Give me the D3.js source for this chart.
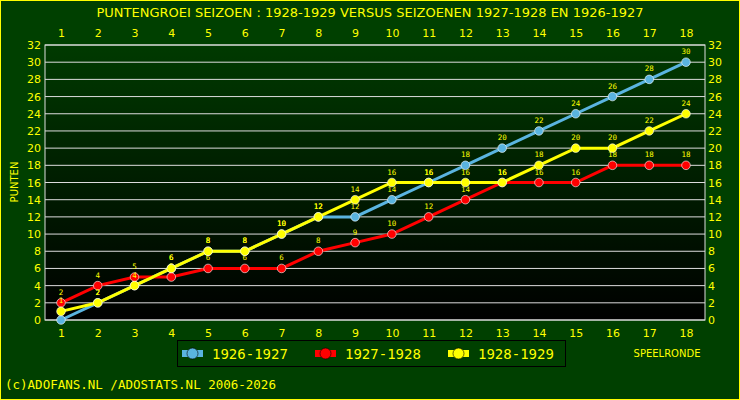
<!DOCTYPE html>
<html><head><meta charset="utf-8">
<script src="https://cdn.jsdelivr.net/npm/d3@7"></script>
<style>body{margin:0;background:#000}svg{display:block}</style>
</head><body><div id="chart"></div>
<script>
const rondes = d3.range(1, 19);
const seizoenen = ["1926-1927", "1927-1928", "1928-1929"];
const kleuren = ["#5ab4e0", "#ff0000", "#ffff00"];
const punten1926 = [0,2,4,6,8,8,10,12,12,14,16,18,20,22,24,26,28,30];
const punten1927 = [2,4,5,5,6,6,6,8,9,10,12,14,16,16,16,18,18,18];
const punten1928 = [1,2,4,6,8,8,10,12,14,16,16,16,16,18,20,20,22,24];
const yTicks = d3.range(0, 33, 2);
const reeksen = [punten1926, punten1927, punten1928];

const width = 740, height = 400;
const svg = d3.select("#chart").append("svg").attr("width", width).attr("height", height);
const yel = "#ffff00";

svg.append("rect").attr("x", 0.5).attr("y", 0.5).attr("width", width - 1).attr("height", height - 1)
  .attr("fill", "#004000").attr("stroke", yel);

const grad = svg.append("defs").append("linearGradient").attr("id", "bg")
  .attr("x1", 0).attr("y1", 0).attr("x2", 0).attr("y2", 1);
grad.append("stop").attr("offset", "0%").attr("stop-color", "#003a00");
grad.append("stop").attr("offset", "100%").attr("stop-color", "#000000");

const L = 45, R = 705, T = 45, B = 320;
const x = d3.scaleLinear().domain([1, 18]).range([61, 686]);
const y = d3.scaleLinear().domain([0, 32]).range([B, T]);

svg.append("rect").attr("x", L).attr("y", T).attr("width", R - L).attr("height", B - T)
  .attr("fill", "url(#bg)").attr("stroke", "#ddd");

svg.append("g").selectAll("line").data(yTicks).join("line")
  .attr("x1", L).attr("x2", R).attr("y1", d => y(d)).attr("y2", d => y(d))
  .attr("stroke", "#ddd").attr("stroke-width", 1);

const font = "DejaVu Sans, sans-serif";
function tekst(g) {
  g.selectAll("text").attr("fill", yel).attr("font-family", font).attr("font-size", 11);
  g.select(".domain").remove();
  g.selectAll(".tick line").remove();
}
svg.append("g").attr("transform", `translate(0,${B})`)
  .call(d3.axisBottom(x).tickValues(rondes).tickSize(0).tickPadding(9)).call(tekst);
svg.append("g").attr("transform", `translate(0,${T})`)
  .call(d3.axisTop(x).tickValues(rondes).tickSize(0).tickPadding(8)).call(tekst);
svg.append("g").attr("transform", `translate(${L},0)`)
  .call(d3.axisLeft(y).tickValues(yTicks).tickSize(0).tickPadding(4)).call(tekst);
svg.append("g").attr("transform", `translate(${R},0)`)
  .call(d3.axisRight(y).tickValues(yTicks).tickSize(0).tickPadding(3)).call(tekst);

svg.append("text").attr("x", 370).attr("y", 17).attr("text-anchor", "middle")
  .attr("fill", yel).attr("font-family", font).attr("font-size", 13)
  .text("PUNTENGROEI  SEIZOEN : 1928-1929 VERSUS SEIZOENEN 1927-1928 EN 1926-1927");
svg.append("text").attr("transform", "translate(18,182) rotate(-90)").attr("text-anchor", "middle")
  .attr("fill", yel).attr("font-family", font).attr("font-size", 10).text("PUNTEN");
svg.append("text").attr("x", 667).attr("y", 357).attr("text-anchor", "middle")
  .attr("fill", yel).attr("font-family", font).attr("font-size", 10).text("SPEELRONDE");
svg.append("text").attr("x", 5).attr("y", 389)
  .attr("fill", yel).attr("font-family", "DejaVu Sans Mono, monospace").attr("font-size", 12.5)
  .text("(c)ADOFANS.NL /ADOSTATS.NL 2006-2026");

const line = d3.line().x((d, i) => x(rondes[i])).y(d => y(d));
reeksen.forEach((s, k) => {
  const g = svg.append("g");
  g.append("path").attr("d", line(s)).attr("fill", "none")
    .attr("stroke", kleuren[k]).attr("stroke-width", 3);
  g.selectAll("circle").data(s).join("circle")
    .attr("cx", (d, i) => x(rondes[i])).attr("cy", d => y(d)).attr("r", 4.3)
    .attr("fill", kleuren[k]).attr("stroke", "#fff").attr("stroke-width", 0.6);
  g.selectAll("text").data(s).join("text")
    .attr("x", (d, i) => x(rondes[i])).attr("y", d => y(d) - 8).attr("text-anchor", "middle")
    .attr("fill", yel).attr("font-family", "DejaVu Sans Mono, monospace").attr("font-size", 7.5)
    .text(d => d);
});

const lg = svg.append("g");
lg.append("rect").attr("x", 177.5).attr("y", 340.5).attr("width", 388).attr("height", 26)
  .attr("fill", "#004000").attr("stroke", "#000");
seizoenen.forEach((s, k) => {
  const x0 = 182 + k * 133;
  lg.append("rect").attr("x", x0).attr("y", 350).attr("width", 21).attr("height", 7).attr("fill", kleuren[k]);
  lg.append("circle").attr("cx", x0 + 10.5).attr("cy", 353.5).attr("r", 5.5)
    .attr("fill", kleuren[k]).attr("stroke", "#000").attr("stroke-width", 0.6);
  lg.append("text").attr("x", x0 + 30).attr("y", 359).attr("fill", yel)
    .attr("font-family", "DejaVu Sans Mono, monospace").attr("font-size", 14).text(s);
});
</script></body></html>
